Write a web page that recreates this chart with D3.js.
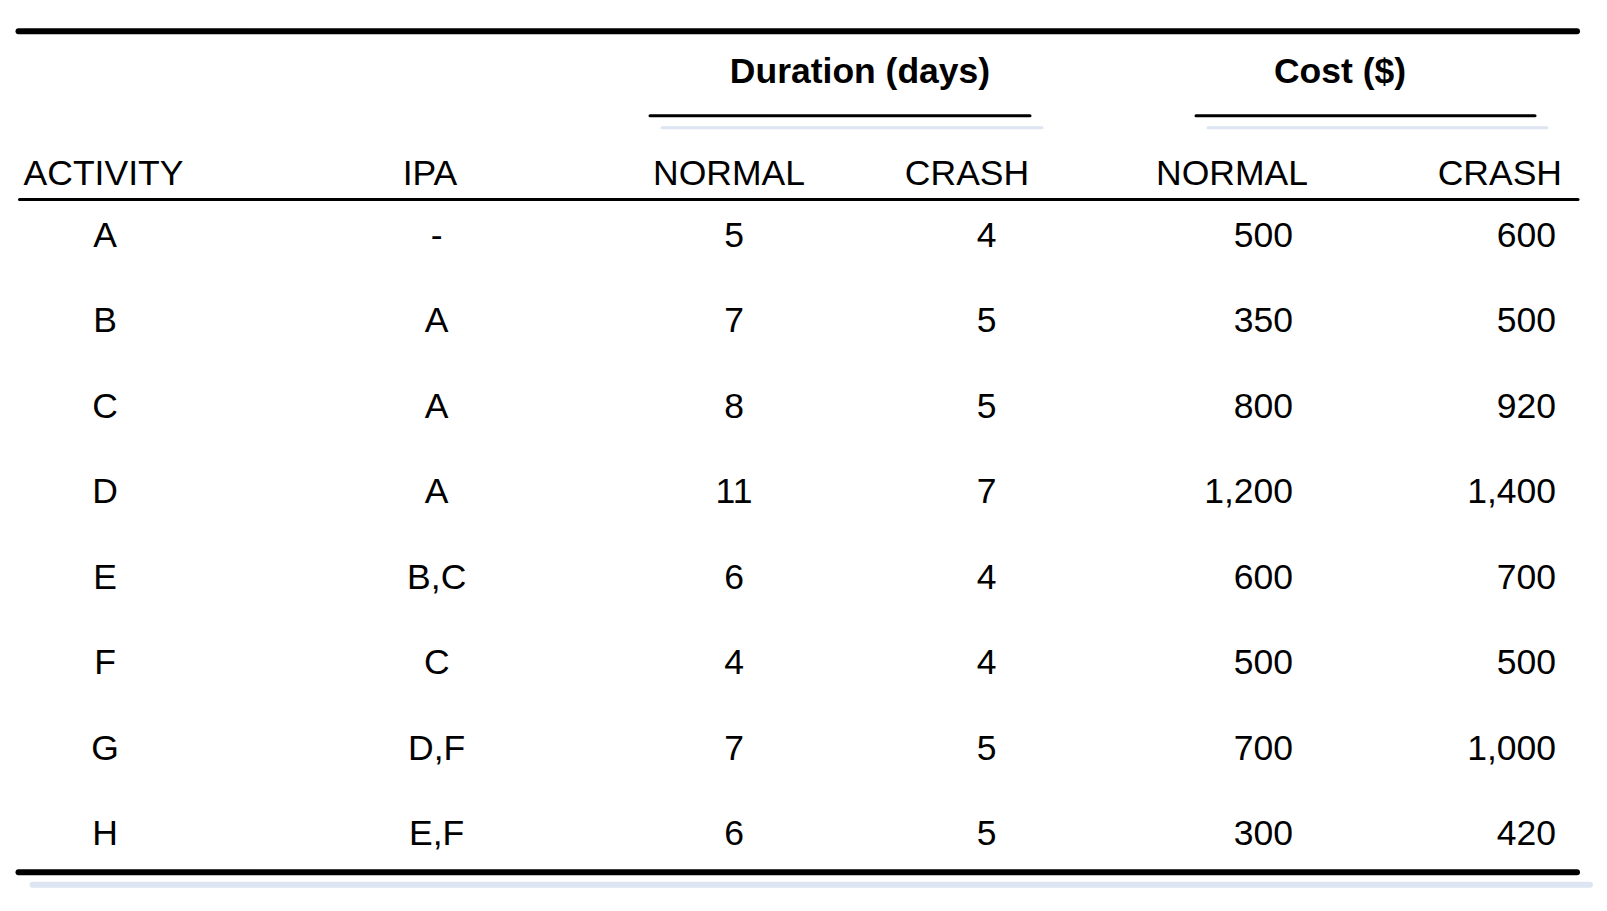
<!DOCTYPE html>
<html>
<head>
<meta charset="utf-8">
<script src="https://cdn.jsdelivr.net/npm/d3@7"></script>
<style>
  html, body { margin: 0; padding: 0; background: #fff; }
  svg { display: block; }
  text { font-family: "Liberation Sans", Arial, sans-serif; fill: #000; }
</style>
</head>
<body>
<svg id="chart" width="1607" height="911"></svg>
<script>
// ---- data ----
const activities = ["A", "B", "C", "D", "E", "F", "G", "H"];
const ipa = ["-", "A", "A", "A", "B,C", "C", "D,F", "E,F"];
const durationNormal = [5, 7, 8, 11, 6, 4, 7, 6];
const durationCrash = [4, 5, 5, 7, 4, 4, 5, 5];
const costNormal = [500, 350, 800, 1200, 600, 500, 700, 300];
const costCrash = [600, 500, 920, 1400, 700, 500, 1000, 420];
const columnLabels = ["ACTIVITY", "IPA", "NORMAL", "CRASH", "NORMAL", "CRASH"];
const groupLabels = ["Duration (days)", "Cost ($)"];

// ---- layout ----
const svg = d3.select("#chart");
const FS = 35.5;
const fmt = d3.format(",");

const y = d3.scaleLinear().domain([0, 7]).range([246.7, 246.7 + 7 * 85.5]);

const columns = [
  { values: activities, x: 105, anchor: "middle", head: { x: 23.6, anchor: "start" } },
  { values: ipa, x: 436.7, anchor: "middle", head: { x: 430, anchor: "middle" } },
  { values: durationNormal.map(String), x: 734, anchor: "middle", head: { x: 729, anchor: "middle" } },
  { values: durationCrash.map(String), x: 986.5, anchor: "middle", head: { x: 967, anchor: "middle" } },
  { values: costNormal.map(fmt), x: 1293, anchor: "end", head: { x: 1232, anchor: "middle" } },
  { values: costCrash.map(fmt), x: 1556, anchor: "end", head: { x: 1562, anchor: "end" } }
];

const groups = [
  { label: groupLabels[0], cx: 860, x1: 650, x2: 1030 },
  { label: groupLabels[1], cx: 1340, x1: 1196, x2: 1535 }
];

const shade = "#dde5f2";

function hline(x1, x2, yy, w, color, cap) {
  svg.append("line")
    .attr("x1", x1).attr("x2", x2).attr("y1", yy).attr("y2", yy)
    .attr("stroke", color).attr("stroke-width", w)
    .attr("stroke-linecap", cap || "round");
}

// rules
hline(18.5, 1577, 31.3, 6, "#000");
hline(19.5, 1578, 199.5, 3, "#000");
// bottom rule with shadow
hline(32.5, 1590, 884.7, 6, shade);
hline(18.5, 1577, 872.3, 6, "#000");

// group headers
groups.forEach(g => {
  hline(g.x1 + 12, g.x2 + 12, 127.7, 3, shade);
  hline(g.x1, g.x2, 115.7, 3, "#000");
  svg.append("text")
    .attr("x", g.cx).attr("y", 83)
    .attr("text-anchor", "middle")
    .attr("font-size", FS).attr("font-weight", "bold")
    .text(g.label);
});

// column headers
svg.selectAll("text.colhead")
  .data(columns)
  .join("text")
  .attr("class", "colhead")
  .attr("x", d => d.head.x)
  .attr("y", 184.5)
  .attr("text-anchor", d => d.head.anchor)
  .attr("font-size", FS)
  .text((d, i) => columnLabels[i]);

// body cells
columns.forEach((col, ci) => {
  svg.selectAll("text.c" + ci)
    .data(col.values)
    .join("text")
    .attr("class", "c" + ci)
    .attr("x", col.x)
    .attr("y", (d, i) => y(i))
    .attr("text-anchor", col.anchor)
    .attr("font-size", FS)
    .text(d => d);
});
</script>
</body>
</html>
